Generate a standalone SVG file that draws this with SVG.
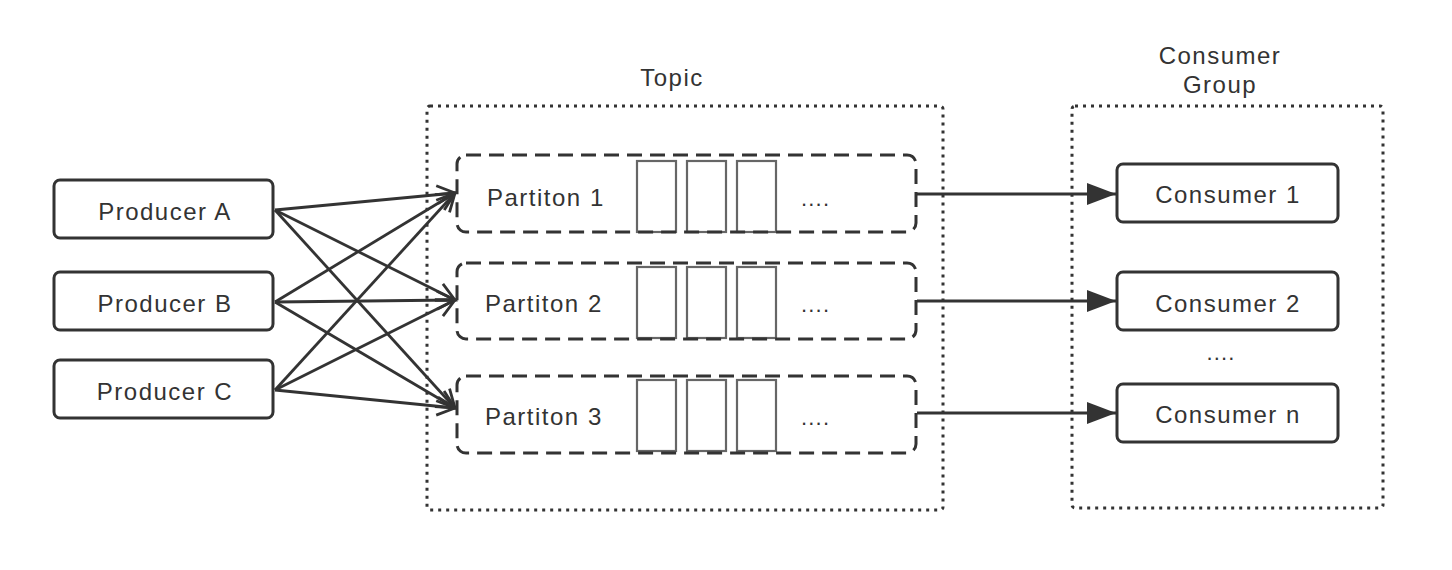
<svg xmlns="http://www.w3.org/2000/svg" width="1452" height="570" viewBox="0 0 1452 570">
<style>
  .txt { font-family: "Liberation Sans", Arial, sans-serif; font-size: 24px; fill: #333; letter-spacing: 1.5px; }
  .dots { font-family: "Liberation Sans", Arial, sans-serif; font-size: 22px; fill: #333; letter-spacing: 1.2px; }
  .box { fill: #fff; stroke: #333; stroke-width: 3; }
  .part { fill: none; stroke: #333; stroke-width: 3; stroke-dasharray: 15 8; }
  .group { fill: none; stroke: #333; stroke-width: 3; stroke-dasharray: 3 5; }
  .cell { fill: #fff; stroke: #666; stroke-width: 2.2; }
  .edge { fill: none; stroke: #333; stroke-width: 2.8; }
</style>
<defs>
  <marker id="open" markerUnits="userSpaceOnUse" markerWidth="24" markerHeight="24" refX="20" refY="12" orient="auto">
    <path d="M2,3 L20,12 L2,21" fill="none" stroke="#333" stroke-width="2.8"/>
  </marker>
  <marker id="solid" markerUnits="userSpaceOnUse" markerWidth="32" markerHeight="24" refX="30" refY="12" orient="auto">
    <path d="M1,1 L30,12 L1,23 Z" fill="#333"/>
  </marker>
</defs>
<rect width="1452" height="570" fill="#fff"/>

<g id="topic">
  <rect class="group" x="427" y="106" width="516" height="404" rx="3"/>
  <text class="txt" x="672" y="86" text-anchor="middle">Topic</text>
</g>
<g id="consumer-group">
  <rect class="group" x="1072" y="106" width="311" height="402" rx="3"/>
  <text class="txt" x="1220" y="64" text-anchor="middle">Consumer</text>
  <text class="txt" x="1220" y="93" text-anchor="middle">Group</text>
</g>

<g id="connectors">
  <line class="edge" x1="275" y1="210" x2="455" y2="193" marker-end="url(#open)"/>
  <line class="edge" x1="275" y1="210" x2="455" y2="300" marker-end="url(#open)"/>
  <line class="edge" x1="275" y1="210" x2="455" y2="408" marker-end="url(#open)"/>
  <line class="edge" x1="275" y1="302" x2="455" y2="193" marker-end="url(#open)"/>
  <line class="edge" x1="275" y1="302" x2="455" y2="300" marker-end="url(#open)"/>
  <line class="edge" x1="275" y1="302" x2="455" y2="408" marker-end="url(#open)"/>
  <line class="edge" x1="275" y1="390" x2="455" y2="193" marker-end="url(#open)"/>
  <line class="edge" x1="275" y1="390" x2="455" y2="300" marker-end="url(#open)"/>
  <line class="edge" x1="275" y1="390" x2="455" y2="408" marker-end="url(#open)"/>
  <line class="edge" x1="917" y1="194" x2="1116" y2="194" marker-end="url(#solid)"/>
  <line class="edge" x1="917" y1="301" x2="1116" y2="301" marker-end="url(#solid)"/>
  <line class="edge" x1="917" y1="413" x2="1116" y2="413" marker-end="url(#solid)"/>
</g>

<g id="producer-a">
  <rect class="box" x="54" y="180" width="219" height="58" rx="6"/>
  <text class="txt" x="165" y="220" text-anchor="middle">Producer A</text>
</g>
<g id="producer-b">
  <rect class="box" x="54" y="272" width="219" height="58" rx="6"/>
  <text class="txt" x="165" y="312" text-anchor="middle">Producer B</text>
</g>
<g id="producer-c">
  <rect class="box" x="54" y="360" width="219" height="58" rx="6"/>
  <text class="txt" x="165" y="400" text-anchor="middle">Producer C</text>
</g>

<g id="partition-1">
  <rect class="cell" x="637" y="161" width="39" height="71"/>
  <rect class="cell" x="687" y="161" width="39" height="71"/>
  <rect class="cell" x="737" y="161" width="39" height="71"/>
  <rect class="part" x="457" y="155" width="459" height="77" rx="9"/>
  <text class="txt" x="487" y="206">Partiton 1</text>
  <text class="dots" x="801" y="206">....</text>
</g>
<g id="partition-2">
  <rect class="cell" x="637" y="267" width="39" height="71"/>
  <rect class="cell" x="687" y="267" width="39" height="71"/>
  <rect class="cell" x="737" y="267" width="39" height="71"/>
  <rect class="part" x="457" y="263" width="459" height="76" rx="9"/>
  <text class="txt" x="485" y="312">Partiton 2</text>
  <text class="dots" x="801" y="312">....</text>
</g>
<g id="partition-3">
  <rect class="cell" x="637" y="380" width="39" height="71"/>
  <rect class="cell" x="687" y="380" width="39" height="71"/>
  <rect class="cell" x="737" y="380" width="39" height="71"/>
  <rect class="part" x="457" y="376" width="459" height="77" rx="9"/>
  <text class="txt" x="485" y="425">Partiton 3</text>
  <text class="dots" x="801" y="425">....</text>
</g>

<g id="consumer-1">
  <rect class="box" x="1117" y="164" width="221" height="58" rx="6"/>
  <text class="txt" x="1228" y="203" text-anchor="middle">Consumer 1</text>
</g>
<g id="consumer-2">
  <rect class="box" x="1117" y="272" width="221" height="58" rx="6"/>
  <text class="txt" x="1228" y="312" text-anchor="middle">Consumer 2</text>
</g>
<g id="consumer-dots">
  <text class="dots" x="1221" y="360" text-anchor="middle">....</text>
</g>
<g id="consumer-n">
  <rect class="box" x="1117" y="384" width="221" height="58" rx="6"/>
  <text class="txt" x="1228" y="423" text-anchor="middle">Consumer n</text>
</g>
</svg>
